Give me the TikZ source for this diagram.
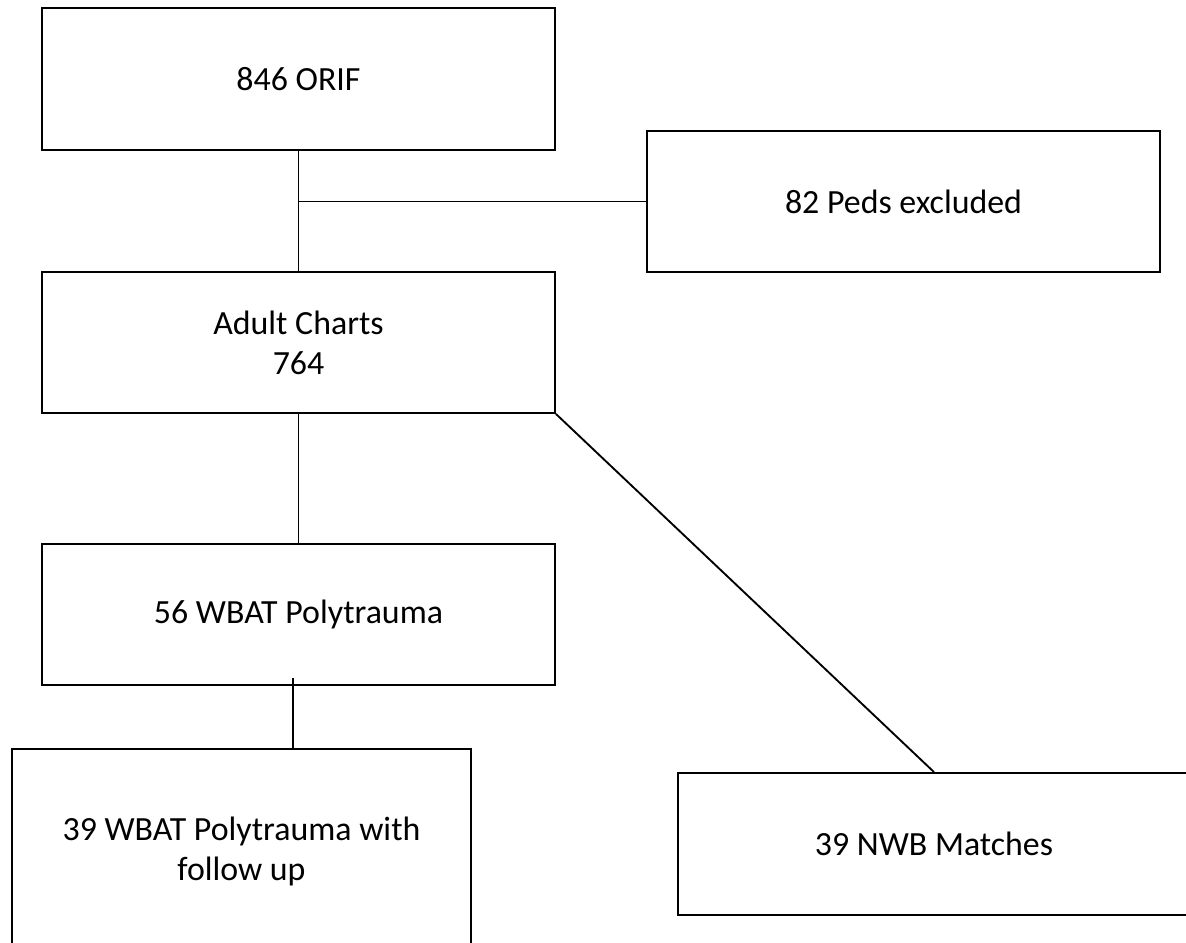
\documentclass[tikz,border=0pt]{standalone}
\usepackage{fontspec}
\setmainfont{Carlito}
\usetikzlibrary{positioning, calc}

\tikzset{box/.style={rectangle, draw, line width=1.4pt, align=center, font=\fontsize{25.4}{30}\selectfont}}

\begin{document}
\begin{tikzpicture}[x=0.75pt, y=-0.75pt, line width=1.4pt]
    \useasboundingbox (0,0) rectangle (1186,943);
    \clip (0,0) rectangle (1186,943);

    % Flow boxes
    \node[box, minimum width=513*0.75pt, minimum height=142*0.75pt] (orif) at (298.5, 79) {846 ORIF};
    \node[box, minimum width=513*0.75pt, minimum height=141*0.75pt] (peds) at (903.5, 201.5) {82 Peds excluded};
    \node[box, minimum width=513*0.75pt, minimum height=141*0.75pt] (adult) at (298.5, 342.5) {Adult Charts\\764};
    \node[box, minimum width=513*0.75pt, minimum height=141*0.75pt] (wbat) at (298.5, 614.5) {56 WBAT Polytrauma};
    \node[box, minimum width=459*0.75pt, minimum height=204*0.75pt] (wbatfu) at (241.5, 851) {39 WBAT Polytrauma with\\follow up};
    \node[box, minimum width=512*0.75pt, minimum height=142*0.75pt] (nwb) at (934, 844) {39 NWB Matches};

    % Connections
    \coordinate (tick) at (293, 678);
    \draw (orif.south) to (adult.north);
    \draw (peds.west) to (peds.west -| orif.south);
    \draw (adult.south) to (wbat.north);
    \draw (adult.south east) to (nwb.north);
    \draw (tick) to (tick |- wbatfu.north);
\end{tikzpicture}
\end{document}
